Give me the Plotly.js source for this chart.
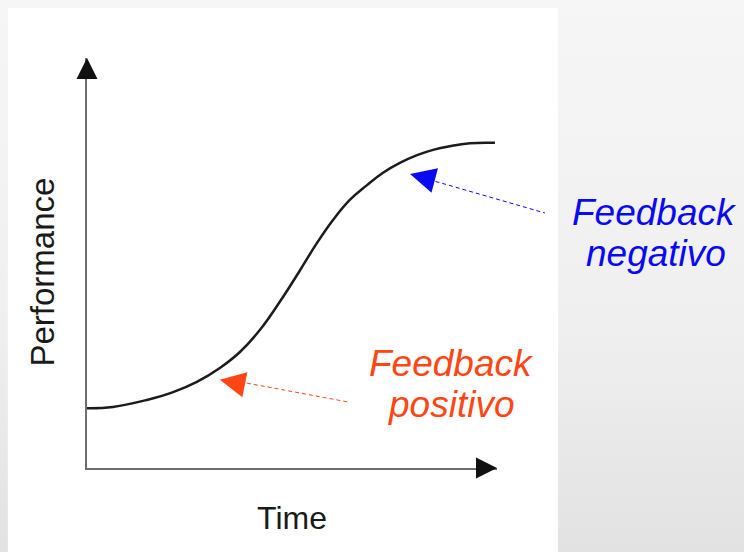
<!DOCTYPE html>
<html>
<head>
<meta charset="utf-8">
<script src="https://cdn.plot.ly/plotly-3.0.1.min.js"></script>
<style>
  html, body { margin: 0; padding: 0; }
  body { width: 744px; height: 552px; background: linear-gradient(to bottom, #f6f6f6 0%, #efefef 60%, #e2e2e2 100%); }
  #chart { width: 744px; height: 552px; }
</style>
</head>
<body>
<div id="chart"></div>
<script>
// ---- data ----
const time = [0, 0.63, 1.46, 2.10, 2.68, 3.24, 3.73, 4.22, 4.78, 5.20, 5.61, 6.00, 6.41, 6.83, 7.22, 7.63, 8.05, 8.44, 8.85, 9.34, 9.95];
const performance = [1.46, 1.49, 1.66, 1.85, 2.10, 2.44, 2.83, 3.37, 4.17, 4.83, 5.49, 6.05, 6.54, 6.90, 7.20, 7.44, 7.63, 7.76, 7.85, 7.92, 7.93];
const xTitle = "Time";
const yTitle = "Performance";
const negLabel = ["Feedback", "negativo"];
const posLabel = ["Feedback", "positivo"];
// points on the curve the feedback arrows point at
const negPoint = [7.88, 7.17];
const posPoint = [3.24, 2.15];

const BLUE = "#0a0af2";
const ORANGE = "#ff4614";
const FONT = "Liberation Sans, Arial, sans-serif";

const trace = {
  x: time, y: performance, type: "scatter", mode: "lines",
  line: { color: "#1c1c1c", width: 2.5, shape: "spline", smoothing: 1.2 },
  hoverinfo: "skip", showlegend: false
};

const lbl = (text, x, y, color) => ({
  xref: "paper", yref: "paper", x: x, y: y, text: text, showarrow: false,
  xanchor: "center", yanchor: "middle",
  font: { family: FONT, size: 37, color: color, style: "italic" }
});

const head = (x, y, ax, ay, color, w, s) => ({
  xref: "x", yref: "y", x: x, y: y, ax: ax, ay: ay, text: "",
  showarrow: true, arrowhead: 2, arrowwidth: w, arrowsize: s, arrowcolor: color,
  font: { size: 1 }
});

const layout = {
  width: 744, height: 552,
  margin: { l: 87, r: 247, t: 58, b: 84 },
  paper_bgcolor: "rgba(0,0,0,0)", plot_bgcolor: "rgba(0,0,0,0)",
  showlegend: false,
  xaxis: {
    range: [0, 10], showgrid: false, zeroline: false, showticklabels: false, ticks: "",
    showline: true, linecolor: "#6e6e6e", linewidth: 2, fixedrange: true,
    title: { text: xTitle, standoff: 38, font: { family: FONT, size: 32, color: "#1a1a1a" } }
  },
  yaxis: {
    range: [0, 10], showgrid: false, zeroline: false, showticklabels: false, ticks: "",
    showline: true, linecolor: "#6e6e6e", linewidth: 2, fixedrange: true
  },
  shapes: [
    { type: "rect", xref: "paper", yref: "paper", x0: -0.193, x1: 1.149, y0: -0.21, y1: 1.122,
      fillcolor: "#ffffff", line: { width: 0 }, layer: "below" },
    { type: "line", xref: "paper", yref: "paper", x0: 0.85, y0: 0.699, x1: 1.117, y1: 0.622,
      line: { color: BLUE, width: 1, dash: "4px,3px" } },
    { type: "line", xref: "paper", yref: "paper", x0: 0.39, y0: 0.207, x1: 0.637, y1: 0.161,
      line: { color: ORANGE, width: 1, dash: "4px,3px" } }
  ],
  annotations: [
    { xref: "paper", yref: "paper", x: -0.1085, y: 0.478, text: yTitle, textangle: -90,
      showarrow: false, xanchor: "center", yanchor: "middle",
      font: { family: FONT, size: 33, color: "#1a1a1a" } },
    head(10, 0, -16, 0, "#111111", 2, 2.1),
    head(0, 10, 0, 16, "#111111", 2, 2.1),
    head(negPoint[0], negPoint[1], 19, 5, BLUE, 1.5, 3.4),
    head(posPoint[0], posPoint[1], 20, 4, ORANGE, 1.5, 3.4),
    lbl(negLabel[0], 1.385, 0.622, BLUE),
    lbl(negLabel[1], 1.388, 0.522, BLUE),
    lbl(posLabel[0], 0.888, 0.254, ORANGE),
    lbl(posLabel[1], 0.888, 0.156, ORANGE)
  ]
};

Plotly.newPlot("chart", [trace], layout, { displayModeBar: false, staticPlot: true });
</script>
</body>
</html>
